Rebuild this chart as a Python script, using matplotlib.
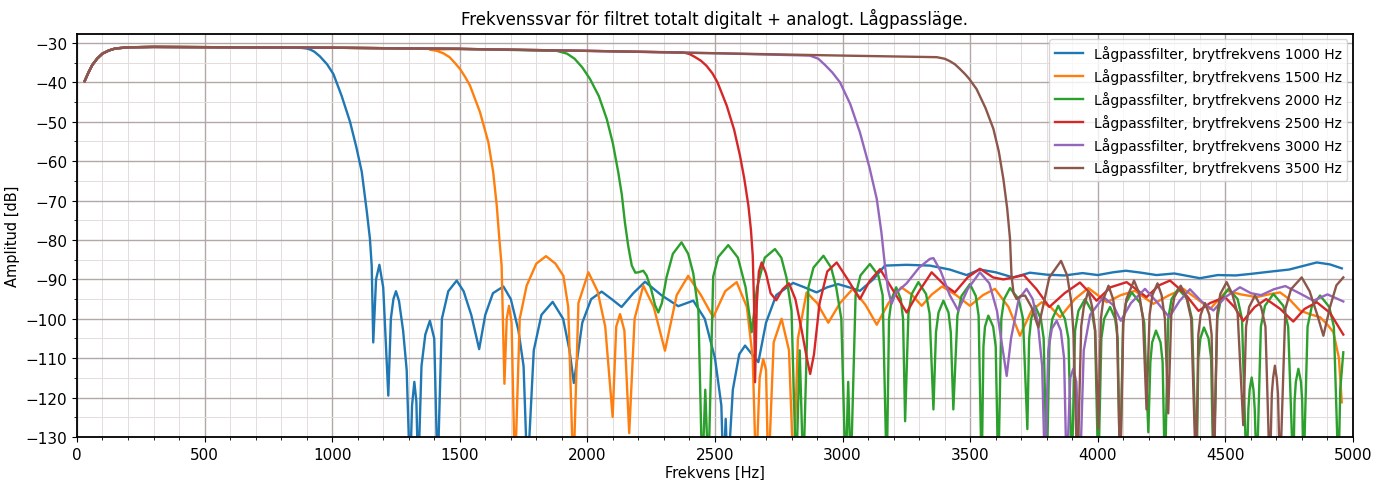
import matplotlib.pyplot as plt
from matplotlib.ticker import MultipleLocator

# gemensam stigning vid låga frekvenser (samma för alla filter)
f_start = [30, 45, 60, 80, 100, 125, 150, 200, 300, 1000, 1500]
a_start = [-39.7, -37.5, -35.6, -33.9, -32.7, -31.9, -31.4, -31.1, -31.0, -31.2, -31.5]

f_1000 = [30, 45, 60, 80, 100, 125, 150, 200, 300, 600, 850, 880, 900, 915, 930, 952, 980, 1005, 1037, 1070, 1095,
          1116, 1136, 1148, 1155, 1161, 1172, 1185, 1200, 1220, 1230, 1240, 1250, 1262, 1278, 1292, 1305, 1313, 1322,
          1330, 1337, 1350, 1365, 1383, 1400, 1413, 1430, 1455, 1488, 1515, 1545, 1576, 1600, 1630, 1671, 1700,
          1730, 1750, 1765, 1790, 1820, 1864, 1905, 1930, 1947, 1980, 2015, 2056, 2095, 2134, 2180, 2226, 2290,
          2356, 2415, 2460, 2500, 2525, 2533, 2542, 2550, 2570, 2595, 2618, 2645, 2670, 2700, 2740, 2806, 2850,
          2898, 2940, 2982, 3025, 3068, 3120, 3166, 3250, 3342, 3420, 3486, 3538, 3600, 3668, 3734, 3800, 3870,
          3940, 4000, 4060, 4110, 4170, 4230, 4300, 4400, 4470, 4540, 4600, 4680, 4750, 4810, 4858, 4910, 4956]
a_1000 = [-39.7, -37.5, -35.6, -33.9, -32.7, -31.9, -31.4, -31.1, -31.0, -31.1, -31.2, -31.25, -31.4, -31.7, -32.2,
          -33.4, -35.4, -37.9, -43.4, -50.0, -56.5, -62.7, -72.9, -79.7, -86.6, -106.0, -90.0, -86.3, -92.0, -119.5,
          -100.0, -95.0, -93.0, -95.5, -103.0, -113.0, -140.0, -122.0, -116.0, -121.0, -140.0, -112.0, -104.0,
          -100.5, -105.0, -140.0, -100.0, -93.0, -90.3, -93.0, -99.0, -107.7, -99.0, -93.5, -91.8, -95.0, -103.0,
          -112.0, -140.0, -108.0, -99.0, -95.7, -100.0, -108.0, -116.3, -101.0, -95.0, -93.1, -95.0, -97.0, -93.5,
          -90.6, -94.0, -96.8, -95.4, -100.0, -110.0, -122.0, -140.0, -125.4, -140.0, -118.0, -109.0, -106.8,
          -109.0, -111.0, -101.0, -94.0, -90.9, -92.0, -93.3, -92.0, -91.2, -92.0, -92.9, -90.0, -86.5, -86.3,
          -86.5, -87.5, -88.9, -87.5, -88.2, -89.5, -88.3, -88.8, -89.0, -88.4, -88.9, -88.2, -87.8, -88.3, -88.9,
          -88.5, -89.7, -88.9, -89.0, -88.6, -88.0, -87.5, -86.5, -85.7, -86.2, -87.2]

f_1500 = f_start + [1383, 1410, 1435, 1460, 1480, 1501, 1520, 1540, 1579, 1612, 1631, 1645, 1655, 1664, 1675, 1684,
                    1693, 1703, 1716, 1735, 1762, 1800, 1838, 1875, 1906, 1925, 1945, 1965, 2004, 2040, 2070, 2099,
                    2113, 2128, 2145, 2164, 2185, 2219, 2260, 2304, 2350, 2395, 2445, 2493, 2540, 2585, 2625, 2648,
                    2661, 2675, 2689, 2700, 2709, 2730, 2761, 2790, 2808, 2825, 2859, 2900, 2944, 2990, 3040, 3090,
                    3134, 3180, 3230, 3270, 3310, 3350, 3390, 3445, 3499, 3550, 3597, 3650, 3695, 3740, 3780, 3815,
                    3852, 3910, 3963, 4000, 4035, 4090, 4146, 4180, 4218, 4280, 4335, 4390, 4440, 4475, 4505, 4560,
                    4623, 4670, 4714, 4750, 4792, 4830, 4871, 4900, 4923, 4945, 4956]
a_1500 = a_start + [-31.7, -32.0, -32.6, -33.6, -35.0, -36.6, -38.5, -40.8, -47.5, -55.2, -62.8, -71.3, -79.7,
                    -86.5, -116.5, -100.0, -96.7, -101.0, -140.0, -100.0, -91.6, -86.0, -84.1, -86.0, -89.1, -97.0,
                    -140.0, -96.0, -88.2, -93.0, -102.0, -124.9, -102.0, -98.8, -103.0, -129.0, -100.0, -91.6,
                    -97.0, -108.1, -94.0, -89.1, -94.0, -99.6, -93.0, -90.7, -97.0, -110.0, -140.0, -115.0, -110.2,
                    -113.0, -140.0, -106.0, -100.0, -108.0, -140.0, -105.0, -93.3, -96.0, -101.0, -96.0, -92.4,
                    -96.5, -101.5, -96.0, -92.0, -93.8, -96.7, -93.8, -91.8, -94.0, -96.7, -94.0, -92.4, -97.0,
                    -104.3, -98.0, -95.8, -97.0, -99.6, -95.0, -92.2, -94.0, -95.8, -94.0, -92.9, -94.5, -96.2,
                    -94.0, -92.4, -95.0, -97.5, -95.0, -92.9, -93.8, -94.5, -93.8, -93.3, -95.0, -97.9, -98.8,
                    -99.6, -101.5, -103.4, -110.0, -121.2]

f_2000 = f_start + [1880, 1920, 1950, 1980, 2010, 2045, 2076, 2100, 2121, 2135, 2147, 2160, 2174, 2188, 2200, 2219,
                    2232, 2250, 2265, 2278, 2292, 2310, 2335, 2369, 2395, 2415, 2435, 2450, 2462, 2474, 2493, 2513,
                    2552, 2590, 2620, 2644, 2665, 2695, 2735, 2760, 2780, 2800, 2818, 2832, 2846, 2866, 2886, 2925,
                    2955, 2975, 2995, 3012, 3022, 3032, 3051, 3070, 3107, 3140, 3157, 3173, 3182, 3192, 3210, 3228,
                    3237, 3245, 3258, 3271, 3297, 3327, 3341, 3356, 3366, 3376, 3395, 3415, 3424, 3434, 3450, 3466,
                    3499, 3522, 3533, 3545, 3552, 3558, 3571, 3590, 3600, 3610, 3622, 3633, 3656, 3690, 3707, 3724,
                    3731, 3739, 3754, 3777, 3788, 3800, 3811, 3822, 3845, 3871, 3885, 3898, 3911, 3924, 3950, 3976,
                    3989, 4002, 4014, 4025, 4048, 4068, 4078, 4087, 4099, 4110, 4133, 4166, 4182, 4198, 4206, 4213,
                    4228, 4246, 4254, 4263, 4276, 4289, 4315, 4351, 4369, 4387, 4394, 4402, 4416, 4434, 4444, 4453,
                    4468, 4482, 4512, 4548, 4565, 4583, 4590, 4595, 4603, 4610, 4615, 4623, 4639, 4655, 4688, 4727,
                    4746, 4766, 4771, 4776, 4786, 4796, 4801, 4806, 4822, 4838, 4871, 4907, 4925, 4943, 4950, 4962]
a_2000 = a_start + [-32.0, -32.7, -34.0, -36.2, -39.1, -43.5, -49.3, -55.5, -62.8, -68.5, -75.5, -81.5, -86.5,
                    -88.3, -88.2, -87.8, -89.0, -92.5, -96.5, -98.4, -96.0, -89.5, -83.5, -80.6, -83.5, -88.5,
                    -98.0, -140.0, -118.0, -140.0, -89.3, -84.3, -81.3, -84.5, -92.0, -103.4, -92.0, -84.5, -82.3,
                    -84.5, -89.5, -98.0, -140.0, -108.0, -140.0, -92.0, -87.0, -84.0, -87.0, -92.0, -100.0, -140.0,
                    -116.0, -140.0, -94.0, -89.0, -86.1, -89.0, -94.0, -140.0, -100.0, -95.0, -92.0, -95.0, -100.0,
                    -126.0, -98.7, -93.7, -90.7, -93.7, -98.7, -123.0, -103.4, -98.4, -95.4, -98.4, -103.4, -123.0,
                    -99.2, -94.2, -91.2, -94.2, -99.2, -140.0, -107.0, -102.0, -99.2, -102.0, -107.0, -140.0,
                    -100.0, -95.0, -92.2, -95.0, -100.0, -128.0, -105.0, -100.0, -96.7, -100.0, -105.0, -140.0,
                    -105.0, -100.0, -96.7, -100.0, -105.0, -140.0, -103.0, -98.0, -95.0, -98.0, -103.0, -140.0,
                    -105.0, -100.0, -97.0, -100.0, -105.0, -140.0, -101.0, -96.0, -93.3, -96.0, -101.0, -128.8,
                    -111.0, -106.0, -103.0, -106.0, -111.0, -140.0, -100.0, -95.0, -92.4, -95.0, -100.0, -140.0,
                    -110.0, -105.0, -102.2, -105.0, -110.0, -140.0, -100.0, -95.0, -92.4, -95.0, -100.0, -140.0,
                    -123.0, -118.0, -114.9, -118.0, -123.0, -140.0, -102.0, -96.7, -93.7, -96.7, -102.0, -140.0,
                    -121.0, -116.0, -112.7, -116.0, -121.0, -140.0, -102.0, -97.0, -94.1, -97.0, -102.0, -140.0,
                    -118.0, -108.5]

f_2500 = f_start + [2000, 2376, 2400, 2420, 2445, 2467, 2490, 2510, 2546, 2575, 2598, 2615, 2631, 2641, 2648, 2653,
                    2657, 2664, 2672, 2683, 2700, 2718, 2740, 2765, 2790, 2815, 2840, 2860, 2873, 2888, 2910, 2940,
                    2977, 3020, 3068, 3105, 3147, 3200, 3251, 3300, 3349, 3400, 3440, 3490, 3538, 3590, 3630, 3670,
                    3710, 3760, 3810, 3870, 3930, 3970, 3995, 4050, 4113, 4150, 4191, 4240, 4283, 4340, 4395, 4440,
                    4498, 4535, 4570, 4615, 4660, 4715, 4766, 4810, 4858, 4910, 4962]
a_2500 = a_start + [-32.0, -32.4, -32.8, -33.5, -34.5, -35.8, -37.7, -40.0, -45.9, -52.0, -58.6, -64.5, -71.3,
                    -77.5, -84.0, -96.0, -116.1, -96.0, -88.0, -85.7, -88.5, -93.5, -95.3, -92.5, -91.0, -95.0,
                    -103.0, -110.0, -114.0, -109.0, -96.0, -88.0, -85.7, -90.0, -95.0, -90.5, -87.4, -93.0, -98.4,
                    -93.0, -88.2, -91.5, -93.3, -89.5, -87.3, -89.5, -90.0, -89.5, -88.9, -92.5, -97.0, -93.5,
                    -90.8, -93.5, -95.4, -92.0, -90.7, -92.5, -94.5, -91.5, -90.3, -93.5, -98.0, -96.0, -94.5,
                    -97.0, -100.5, -97.0, -95.0, -97.5, -100.7, -97.5, -95.8, -98.5, -104.0]

f_3000 = f_start + [2000, 2500, 2872, 2905, 2930, 2960, 2990, 3030, 3068, 3105, 3134, 3152, 3166, 3178, 3192, 3208,
                    3225, 3251, 3300, 3342, 3356, 3385, 3420, 3453, 3490, 3538, 3575, 3605, 3628, 3643, 3660, 3690,
                    3721, 3745, 3765, 3782, 3793, 3806, 3820, 3839, 3855, 3868, 3878, 3892, 3904, 3916, 3930, 3945,
                    3970, 4022, 4060, 4090, 4130, 4185, 4235, 4280, 4320, 4361, 4405, 4453, 4500, 4557, 4600, 4640,
                    4690, 4735, 4790, 4845, 4900, 4962]
a_3000 = a_start + [-32.0, -32.6, -33.2, -34.0, -35.5, -37.5, -40.0, -45.5, -52.7, -61.5, -69.6, -78.0, -86.5,
                    -92.5, -96.2, -93.5, -92.5, -91.0, -87.0, -84.8, -84.6, -88.0, -94.0, -97.9, -92.5, -88.2,
                    -91.0, -98.0, -108.0, -114.5, -105.0, -95.0, -92.4, -95.0, -101.0, -112.0, -140.0, -108.0,
                    -102.5, -100.5, -103.0, -110.0, -140.0, -115.0, -112.7, -116.0, -140.0, -108.0, -99.0, -94.5,
                    -96.5, -100.5, -96.0, -92.4, -96.0, -99.6, -95.5, -92.5, -95.5, -97.9, -94.5, -92.0, -93.5,
                    -94.0, -92.5, -91.7, -93.5, -95.4, -93.8, -95.6]

f_3500 = f_start + [2000, 2500, 3000, 3369, 3400, 3420, 3440, 3460, 3480, 3495, 3525, 3560, 3591, 3612, 3630, 3645,
                    3656, 3662, 3670, 3682, 3698, 3715, 3740, 3767, 3785, 3810, 3856, 3880, 3897, 3905, 3920, 3935,
                    3945, 3963, 3978, 3990, 4002, 4012, 4022, 4042, 4060, 4075, 4088, 4100, 4112, 4142, 4162, 4177,
                    4191, 4203, 4214, 4234, 4250, 4263, 4276, 4288, 4300, 4325, 4347, 4366, 4385, 4394, 4403, 4420,
                    4437, 4446, 4455, 4468, 4480, 4505, 4527, 4548, 4570, 4581, 4593, 4616, 4640, 4657, 4674, 4682,
                    4687, 4694, 4701, 4706, 4714, 4735, 4757, 4799, 4830, 4860, 4884, 4910, 4935, 4962]
a_3500 = a_start + [-32.0, -32.6, -33.2, -33.6, -34.0, -34.6, -35.4, -36.6, -37.9, -39.0, -41.7, -46.5, -51.8,
                    -57.5, -64.5, -72.0, -79.7, -89.1, -93.5, -95.0, -94.2, -94.1, -97.0, -102.2, -97.0, -89.5,
                    -85.3, -89.0, -96.0, -104.0, -140.0, -102.0, -97.0, -92.9, -97.0, -103.0, -128.0, -100.0, -95.0,
                    -91.6, -95.0, -102.0, -140.0, -101.0, -95.0, -90.3, -93.5, -100.0, -123.0, -99.0, -94.0, -91.0,
                    -94.0, -100.0, -124.0, -99.0, -94.5, -91.6, -94.5, -100.0, -140.0, -104.0, -99.0, -96.0, -99.0,
                    -104.0, -140.0, -98.7, -93.7, -90.7, -93.7, -98.7, -127.0, -102.0, -97.0, -94.1, -97.0, -102.0,
                    -140.0, -119.0, -115.0, -111.9, -115.0, -119.0, -140.0, -97.5, -92.5, -89.5, -93.0, -99.0,
                    -104.3, -97.0, -91.5, -89.5]

cutoffs = [1000, 1500, 2000, 2500, 3000, 3500]
curves = [(f_1000, a_1000), (f_1500, a_1500), (f_2000, a_2000),
          (f_2500, a_2500), (f_3000, a_3000), (f_3500, a_3500)]

fig = plt.figure(figsize=(13.84, 4.81), dpi=100)
ax = fig.add_axes([0.0556, 0.0894, 0.922, 0.838])

for fc, (f, a) in zip(cutoffs, curves):
    ax.plot(f, a, linewidth=1.7, label=f'Lågpassfilter, brytfrekvens {fc} Hz')

ax.set_xlim(0, 5000)
ax.set_ylim(-130, -27.7)
ax.set_yticks(range(-130, -29, 10))
ax.xaxis.set_major_locator(MultipleLocator(500))
ax.xaxis.set_minor_locator(MultipleLocator(100))
ax.yaxis.set_minor_locator(MultipleLocator(5))
ax.grid(True, which='major', color='#b3a7a7', linewidth=1.0)
ax.grid(True, which='minor', color='#e4dcdc', linewidth=0.7)
ax.tick_params(labelsize=11)
for s in ax.spines.values():
    s.set_linewidth(1.3)

ax.set_title('Frekvenssvar för filtret totalt digitalt + analogt. Lågpassläge.', fontsize=12, pad=7)
ax.set_xlabel('Frekvens [Hz]', fontsize=10.5, labelpad=2)
ax.set_ylabel('Amplitud [dB]', fontsize=10.5)
ax.legend(loc='upper right', fontsize=10, framealpha=0.8, handlelength=2.0, labelspacing=0.5,
          borderaxespad=0.4)

fig.savefig('out.png', dpi=100)
